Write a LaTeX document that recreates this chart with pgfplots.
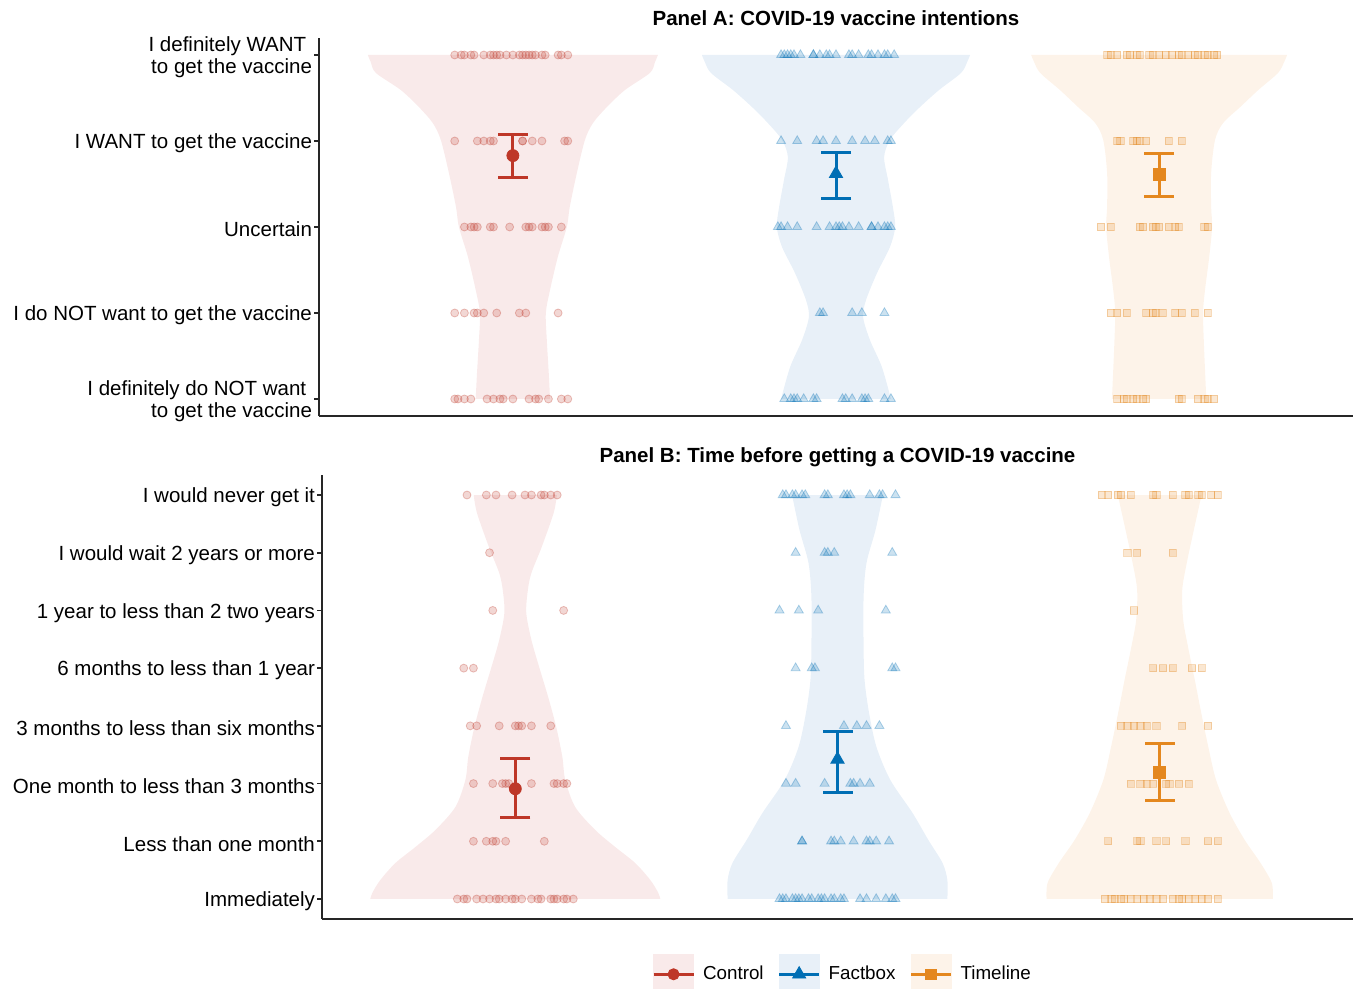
\documentclass[border=0pt]{standalone}
\usepackage{fontspec}
\setmainfont{Liberation Sans}
\usepackage{pgfplots}
\usepackage{pgfplotstable}
\pgfplotsset{compat=1.18}
\usepgfplotslibrary{fillbetween}

\definecolor{ctl}{RGB}{190,55,40}
\definecolor{fbx}{RGB}{0,110,180}
\definecolor{tml}{RGB}{228,135,30}
\definecolor{ctlbg}{RGB}{249,234,234}
\definecolor{fbxbg}{RGB}{232,240,248}
\definecolor{tmlbg}{RGB}{253,243,233}

% ---------- violin outlines: v = level, hw = half width ----------
\pgfplotstableread{
v hw
5.000 0.449
4.919 0.440
4.791 0.424
4.593 0.347
4.395 0.291
4.209 0.248
4.012 0.223
3.628 0.198
3.233 0.176
3.000 0.167
2.651 0.139
2.267 0.115
2.000 0.102
1.686 0.105
1.302 0.111
1.000 0.115
}\vCA
\pgfplotstableread{
v hw
5.000 0.415
4.919 0.406
4.791 0.387
4.593 0.319
4.395 0.260
4.209 0.211
4.012 0.167
3.814 0.149
3.547 0.161
3.233 0.176
3.000 0.183
2.767 0.167
2.465 0.127
2.151 0.093
1.953 0.084
1.686 0.105
1.372 0.142
1.000 0.170
}\vFA
\pgfplotstableread{
v hw
5.000 0.396
4.919 0.387
4.791 0.368
4.593 0.307
4.395 0.251
4.209 0.198
4.012 0.173
3.628 0.161
3.233 0.161
3.000 0.164
2.651 0.155
2.267 0.142
2.000 0.136
1.605 0.139
1.000 0.146
}\vTA
\pgfplotstableread{
v hw
8.000 0.129
7.688 0.119
7.100 0.082
6.649 0.050
6.354 0.039
5.956 0.034
5.488 0.050
5.020 0.074
4.500 0.102
3.980 0.127
3.461 0.146
3.062 0.155
2.594 0.186
2.196 0.248
1.901 0.310
1.624 0.372
1.329 0.419
1.104 0.444
1.000 0.450
}\vCB
\pgfplotstableread{
v hw
8.000 0.141
7.394 0.118
6.822 0.090
6.233 0.081
5.367 0.081
4.795 0.084
4.223 0.098
3.634 0.121
3.062 0.164
2.490 0.233
2.022 0.282
1.624 0.326
1.329 0.341
1.000 0.341
}\vFB
\pgfplotstableread{
v hw
8.000 0.130
7.394 0.106
6.822 0.084
6.354 0.070
5.834 0.073
5.367 0.088
4.795 0.109
4.223 0.129
3.634 0.151
3.062 0.175
2.490 0.217
2.022 0.264
1.624 0.313
1.277 0.348
1.000 0.351
}\vTB

% ---------- jittered responses: dx = offset from group centre, y = answer ----------
\pgfplotstableread{
dx y
-0.18 5
-0.16 5
-0.15 5
-0.13 5
-0.12 5
-0.09 5
-0.07 5
-0.06 5
-0.05 5
-0.04 5
-0.02 5
0.00 5
0.02 5
0.03 5
0.04 5
0.05 5
0.06 5
0.07 5
0.09 5
0.10 5
0.14 5
0.15 5
0.17 5
-0.18 4
-0.11 4
-0.09 4
-0.07 4
-0.06 4
0.03 4
0.03 4
0.06 4
0.09 4
0.16 4
0.17 4
-0.15 3
-0.13 3
-0.12 3
-0.11 3
-0.07 3
-0.06 3
-0.01 3
0.04 3
0.05 3
0.06 3
0.09 3
0.10 3
0.11 3
0.15 3
-0.18 2
-0.15 2
-0.12 2
-0.11 2
-0.09 2
-0.05 2
0.02 2
0.04 2
0.14 2
-0.18 1
-0.17 1
-0.15 1
-0.13 1
-0.08 1
-0.06 1
-0.04 1
-0.03 1
0.00 1
0.05 1
0.07 1
0.08 1
0.11 1
0.15 1
0.17 1
}\pCA
\pgfplotstableread{
dx y
-0.17 5
-0.16 5
-0.15 5
-0.14 5
-0.13 5
-0.11 5
-0.07 5
-0.07 5
-0.05 5
-0.03 5
-0.02 5
0.00 5
0.04 5
0.05 5
0.07 5
0.10 5
0.11 5
0.13 5
0.15 5
0.16 5
0.18 5
-0.17 4
-0.12 4
-0.06 4
-0.04 4
0.00 4
0.05 4
0.09 4
0.12 4
0.16 4
0.17 4
-0.18 3
-0.17 3
-0.15 3
-0.12 3
-0.06 3
-0.02 3
0.00 3
0.01 3
0.02 3
0.04 3
0.07 3
0.11 3
0.11 3
0.13 3
0.15 3
0.16 3
0.17 3
-0.05 2
-0.04 2
0.05 2
0.08 2
0.15 2
-0.16 1
-0.14 1
-0.13 1
-0.12 1
-0.10 1
-0.07 1
-0.06 1
0.02 1
0.03 1
0.05 1
0.08 1
0.09 1
0.10 1
0.15 1
0.17 1
}\pFA
\pgfplotstableread{
dx y
-0.16 5
-0.15 5
-0.13 5
-0.10 5
-0.09 5
-0.07 5
-0.06 5
-0.03 5
-0.02 5
0.00 5
0.02 5
0.04 5
0.06 5
0.07 5
0.09 5
0.11 5
0.12 5
0.14 5
0.15 5
0.17 5
0.18 5
-0.13 4
-0.12 4
-0.08 4
-0.07 4
-0.06 4
-0.04 4
0.03 4
0.07 4
-0.18 3
-0.15 3
-0.06 3
-0.05 3
-0.02 3
-0.01 3
0.00 3
0.03 3
0.05 3
0.06 3
0.14 3
0.15 3
-0.15 2
-0.13 2
-0.10 2
-0.04 2
-0.02 2
-0.01 2
0.01 2
0.05 2
0.07 2
0.11 2
0.15 2
-0.13 1
-0.11 1
-0.10 1
-0.08 1
-0.07 1
-0.05 1
-0.04 1
0.06 1
0.07 1
0.12 1
0.14 1
0.15 1
0.17 1
}\pTA
\pgfplotstableread{
dx y
-0.15 8
-0.09 8
-0.06 8
-0.01 8
0.03 8
0.05 8
0.08 8
0.09 8
0.11 8
0.13 8
-0.08 7
-0.07 6
0.15 6
-0.16 5
-0.13 5
-0.14 4
-0.12 4
-0.05 4
0.00 4
0.01 4
0.02 4
0.05 4
0.11 4
-0.13 3
-0.07 3
-0.04 3
-0.03 3
-0.02 3
0.05 3
0.12 3
0.13 3
0.15 3
0.16 3
-0.13 2
-0.09 2
-0.07 2
-0.06 2
-0.03 2
0.09 2
-0.18 1
-0.16 1
-0.15 1
-0.12 1
-0.10 1
-0.08 1
-0.06 1
-0.05 1
-0.03 1
-0.01 1
0.00 1
0.02 1
0.05 1
0.07 1
0.08 1
0.11 1
0.12 1
0.13 1
0.15 1
0.16 1
0.18 1
}\pCB
\pgfplotstableread{
dx y
-0.17 8
-0.16 8
-0.14 8
-0.13 8
-0.11 8
-0.10 8
-0.04 8
-0.03 8
0.02 8
0.03 8
0.04 8
0.10 8
0.13 8
0.14 8
0.18 8
-0.13 7
-0.04 7
-0.03 7
-0.01 7
0.17 7
-0.18 6
-0.12 6
-0.06 6
0.15 6
-0.13 5
-0.08 5
-0.07 5
0.17 5
0.18 5
-0.16 4
0.02 4
0.06 4
0.09 4
0.13 4
-0.16 3
-0.13 3
-0.04 3
0.04 3
0.05 3
0.07 3
0.10 3
-0.11 2
-0.11 2
-0.02 2
-0.01 2
0.01 2
0.05 2
0.09 2
0.10 2
0.12 2
0.16 2
-0.18 1
-0.17 1
-0.16 1
-0.14 1
-0.13 1
-0.12 1
-0.11 1
-0.09 1
-0.08 1
-0.06 1
-0.05 1
-0.04 1
-0.02 1
-0.01 1
0.01 1
0.02 1
0.07 1
0.09 1
0.12 1
0.15 1
0.17 1
0.18 1
}\pFB
\pgfplotstableread{
dx y
-0.18 8
-0.16 8
-0.13 8
-0.12 8
-0.09 8
-0.02 8
-0.01 8
0.04 8
0.08 8
0.09 8
0.12 8
0.13 8
0.16 8
0.18 8
-0.10 7
-0.07 7
0.04 7
-0.08 6
-0.02 5
0.01 5
0.04 5
0.10 5
0.13 5
-0.12 4
-0.10 4
-0.08 4
-0.06 4
-0.04 4
-0.01 4
0.07 4
0.15 4
-0.09 3
-0.06 3
-0.04 3
-0.02 3
0.02 3
0.03 3
0.06 3
0.09 3
-0.16 2
-0.07 2
-0.06 2
-0.01 2
0.02 2
0.08 2
0.15 2
0.18 2
-0.17 1
-0.15 1
-0.14 1
-0.12 1
-0.11 1
-0.09 1
-0.07 1
-0.05 1
-0.03 1
-0.01 1
0.01 1
0.04 1
0.06 1
0.07 1
0.09 1
0.11 1
0.13 1
0.15 1
0.18 1
}\pTB

\newcommand{\violin}[4]{% table, centre, fill colour, id
  \addplot[draw=none, smooth, forget plot, name path=vr#4] table[x expr=#2+\thisrow{hw}, y=v]{#1};
  \addplot[draw=none, smooth, forget plot, name path=vl#4] table[x expr=#2-\thisrow{hw}, y=v]{#1};
  \addplot[fill=#3, draw=none, forget plot] fill between[of=vr#4 and vl#4, reverse=true];
}
\newcommand{\jitter}[5]{% table, centre, colour, mark, size
  \addplot[only marks, forget plot, mark=#4, mark size=#5, draw=#3, fill=#3, draw opacity=0.3, fill opacity=0.2, mark options={line width=0.4pt}] table[x expr=#2+\thisrow{dx}, y=y]{#1};
}
\newcommand{\ebar}[4]{% centre, low, high, colour
  \addplot[#4, line width=1.5pt, forget plot, mark=-, mark size=7.5pt, mark options={solid, line width=1.5pt}] coordinates {(#1,#2) (#1,#3)};
}

\pgfplotsset{
  panel/.style={
    scale only axis, xmin=0.4, xmax=3.6, xtick=\empty,
    axis x line=bottom, axis y line=left,
    axis line style={-, line width=0.8pt, black!85},
    ytick style={line width=0.8pt, black!85},
    tick align=outside, major tick length=2.5pt,
    yticklabel style={align=right, font=\fontsize{10.25}{11}\selectfont, text=black, xshift=2.5pt, yshift=-1.2pt},
    title style={font=\bfseries\fontsize{10.25}{12}\selectfont, at={(0.5,1)}, anchor=base, yshift=0.25pt},
  }
}

\begin{document}
\begin{tikzpicture}

% ================= Panel A =================
\begin{axis}[panel, at={(159.5pt,286.4pt)}, anchor=south west,
  width=517pt, height=189.2pt, ymin=0.8, ymax=5.2,
  ytick={1,2,3,4,5},
  yticklabels={{I definitely do NOT want\hspace*{0.28em}\\to get the vaccine},
               {I do NOT want to get the vaccine},
               {Uncertain},
               {I WANT to get the vaccine},
               {I definitely WANT\hspace*{0.28em}\\to get the vaccine}},
  title={Panel A: COVID-19 vaccine intentions}]
\violin{\vCA}{1}{ctlbg}{a}
\violin{\vFA}{2}{fbxbg}{b}
\violin{\vTA}{3}{tmlbg}{c}
\jitter{\pCA}{1}{ctl}{*}{2pt}
\jitter{\pFA}{2}{fbx}{triangle*}{2.6pt}
\jitter{\pTA}{3}{tml}{square*}{1.8pt}
\ebar{1}{3.58}{4.08}{ctl}
\ebar{2}{3.33}{3.87}{fbx}
\ebar{3}{3.35}{3.86}{tml}
\addplot[ctl, only marks, mark=*, mark size=3pt, forget plot] coordinates {(1,3.83)};
\addplot[fbx, only marks, mark=triangle*, mark size=3.8pt, forget plot] coordinates {(2,3.62)};
\addplot[tml, only marks, mark=square*, mark size=3pt, forget plot] coordinates {(3,3.61)};
\end{axis}

% ================= Panel B =================
\begin{axis}[panel, at={(161pt,34.9pt)}, anchor=south west,
  width=515.5pt, height=222.2pt, ymin=0.65, ymax=8.35,
  ytick={1,2,3,4,5,6,7,8},
  yticklabels={{Immediately},
               {Less than one month},
               {One month to less than 3 months},
               {3 months to less than six months},
               {6 months to less than 1 year},
               {1 year to less than 2 two years},
               {I would wait 2 years or more},
               {I would never get it}},
  title={Panel B: Time before getting a COVID-19 vaccine},
  legend columns=3,
  legend style={at={(0.5058,-0.124)}, anchor=center, draw=none, fill=none,
    font=\fontsize{9.4}{11}\selectfont,
    /tikz/every odd column/.append style={column sep=2pt},
    /tikz/every even column/.append style={column sep=5pt}},
  ]
\addlegendimage{legend image code/.code={
  \fill[ctlbg] (0pt,-10pt) rectangle (20pt,10pt);
  \draw[ctl, line width=1.5pt] (0pt,0pt) -- (20pt,0pt);
  \fill[ctl] (10pt,0pt) circle (2.8pt);}}
\addlegendentry{Control}
\addlegendimage{legend image code/.code={
  \fill[fbxbg] (0pt,-10pt) rectangle (20pt,10pt);
  \draw[fbx, line width=1.5pt] (0pt,0pt) -- (20pt,0pt);
  \fill[fbx] (10pt,3.8pt) -- (6.7pt,-1.9pt) -- (13.3pt,-1.9pt) -- cycle;}}
\addlegendentry{Factbox}
\addlegendimage{legend image code/.code={
  \fill[tmlbg] (0pt,-10pt) rectangle (20pt,10pt);
  \draw[tml, line width=1.5pt] (0pt,0pt) -- (20pt,0pt);
  \fill[tml] (7.4pt,-2.6pt) rectangle (12.6pt,2.6pt);}}
\addlegendentry{Timeline}
\violin{\vCB}{1}{ctlbg}{d}
\violin{\vFB}{2}{fbxbg}{e}
\violin{\vTB}{3}{tmlbg}{f}
\jitter{\pCB}{1}{ctl}{*}{2pt}
\jitter{\pFB}{2}{fbx}{triangle*}{2.6pt}
\jitter{\pTB}{3}{tml}{square*}{1.8pt}
\ebar{1}{2.42}{3.43}{ctl}
\ebar{2}{2.85}{3.91}{fbx}
\ebar{3}{2.70}{3.70}{tml}
\addplot[ctl, only marks, mark=*, mark size=3pt, forget plot] coordinates {(1,2.91)};
\addplot[fbx, only marks, mark=triangle*, mark size=3.8pt, forget plot] coordinates {(2,3.42)};
\addplot[tml, only marks, mark=square*, mark size=3pt, forget plot] coordinates {(3,3.20)};
\end{axis}

\pgfresetboundingbox
\useasboundingbox (0,0) rectangle (678pt,494.5pt);
\end{tikzpicture}
\end{document}
